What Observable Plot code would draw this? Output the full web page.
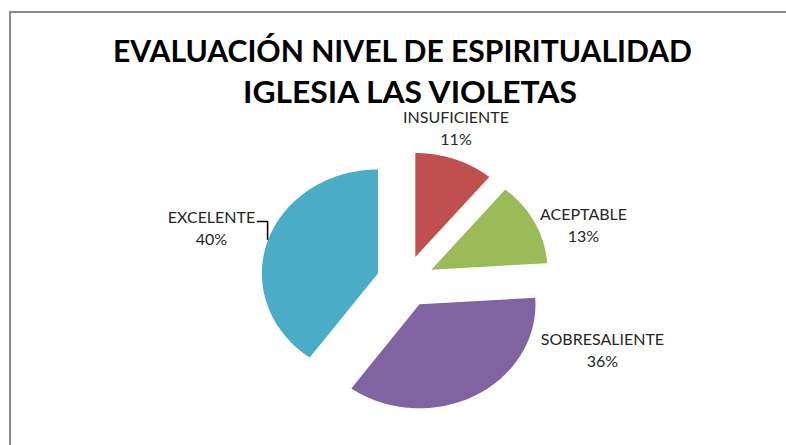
<!DOCTYPE html>
<html>
<head>
<meta charset="utf-8">
<script src="https://cdn.jsdelivr.net/npm/d3@7"></script>
<script src="https://cdn.jsdelivr.net/npm/@observablehq/plot@0.6"></script>
<style>
  html, body { margin: 0; padding: 0; background: #fff; }
  #wrap { position: relative; width: 786px; height: 445px; overflow: hidden; font-family: Lato, "Open Sans", sans-serif; }
  #frame { position: absolute; left: 9px; top: 11px; width: 900px; height: 600px;
           border-left: 2px solid #8c8c8c; border-top: 2px solid #8c8c8c; }
  #title { position: absolute; left: 0; top: 0; overflow: visible; }
  #chart { position: absolute; left: 0; top: 110px; }
</style>
</head>
<body>
<div id="wrap">
  <div id="frame"></div>
  <svg id="title" width="786" height="110"></svg>
  <div id="chart"></div>
</div>
<script>
// ---- data ----
const titleLines = ["EVALUACIÓN NIVEL DE ESPIRITUALIDAD", "IGLESIA LAS VIOLETAS"];
const categories = ["INSUFICIENTE", "ACEPTABLE", "SOBRESALIENTE", "EXCELENTE"];
const percents = [11, 13, 36, 40];
const colors = ["#C0504D", "#9BBB59", "#8064A2", "#4BACC6"];

// ---- layout (pixels) ----
const W = 786, H = 335;
const cx = 405, cy = 171;      // pie centre inside the plot svg
const rx = 116, ry = 104;      // pie radii (slightly elliptical)
const explode = 0.25;          // in radius units
// label nudges from each slice's outer-arc midpoint, in pixels
const labelNudge = {
  INSUFICIENTE: [1.4, -32.3],
  ACEPTABLE: [48.8, 1.9],
  SOBRESALIENTE: [127.1, -46],
  EXCELENTE: [-56.1, -13.9]
};
const leaderFor = ["EXCELENTE"];

// ---- title ----
const tsvg = d3.select("#title");
const titleSpec = [
  {x: 402.5, y: 62, len: 579},
  {x: 410, y: 103, len: 334}
];
titleLines.forEach((t, i) => {
  tsvg.append("text")
    .attr("x", titleSpec[i].x).attr("y", titleSpec[i].y)
    .attr("text-anchor", "middle")
    .attr("font-family", "Lato, 'Open Sans', sans-serif")
    .attr("font-weight", 700)
    .attr("font-size", 31)
    .attr("fill", "#000")
    .attr("textLength", titleSpec[i].len)
    .attr("lengthAdjust", "spacingAndGlyphs")
    .text(t);
});

// ---- pie geometry from data ----
const data = categories.map((c, i) => ({cat: c, value: percents[i]}));
const arcs = d3.pie().sort(null).value(d => d.value)(data);
const pts = [];
const labels = [];
const leaders = [];
arcs.forEach(a => {
  const cat = a.data.cat;
  const mid = (a.startAngle + a.endAngle) / 2;
  const ox = explode * Math.sin(mid), oy = explode * Math.cos(mid);
  pts.push({cat, u: ox, v: oy});
  const n = Math.max(2, Math.ceil((a.endAngle - a.startAngle) / (Math.PI / 180)));
  for (let i = 0; i <= n; i++) {
    const t = a.startAngle + (a.endAngle - a.startAngle) * i / n;
    pts.push({cat, u: ox + Math.sin(t), v: oy + Math.cos(t)});
  }
  pts.push({cat, u: ox, v: oy});
  const mu = ox + Math.sin(mid), mv = oy + Math.cos(mid);
  const [nx, ny] = labelNudge[cat];
  const lu = mu + nx / rx, lv = mv - ny / ry;
  labels.push({cat, u: lu, v: lv, text: `${cat}\n${a.data.value}%`});
  if (leaderFor.includes(cat)) {
    const baseV = lv + 5.9 / ry;
    leaders.push({cat, u: lu + 46 / rx, v: baseV});
    leaders.push({cat, u: mu, v: baseV});
    leaders.push({cat, u: mu, v: mv + 2 / ry});
  }
});

const chart = Plot.plot({
  width: W,
  height: H,
  margin: 0,
  x: {domain: [-cx / rx, (W - cx) / rx], axis: null},
  y: {domain: [(cy - H) / ry, cy / ry], axis: null},
  color: {domain: categories, range: colors},
  style: {background: "transparent", overflow: "visible"},
  marks: [
    Plot.line(pts, {x: "u", y: "v", z: "cat", fill: "cat", stroke: "none", curve: "linear"}),
    Plot.line(leaders, {x: "u", y: "v", z: "cat", stroke: "#000", strokeWidth: 1.5}),
    Plot.text(labels, {
      x: "u", y: "v", text: "text",
      fontSize: 16, lineHeight: 1.375,
      fontFamily: "Lato, 'Open Sans', sans-serif",
      fill: "#262626", textAnchor: "middle"
    })
  ]
});
document.getElementById("chart").appendChild(chart);
</script>
</body>
</html>
